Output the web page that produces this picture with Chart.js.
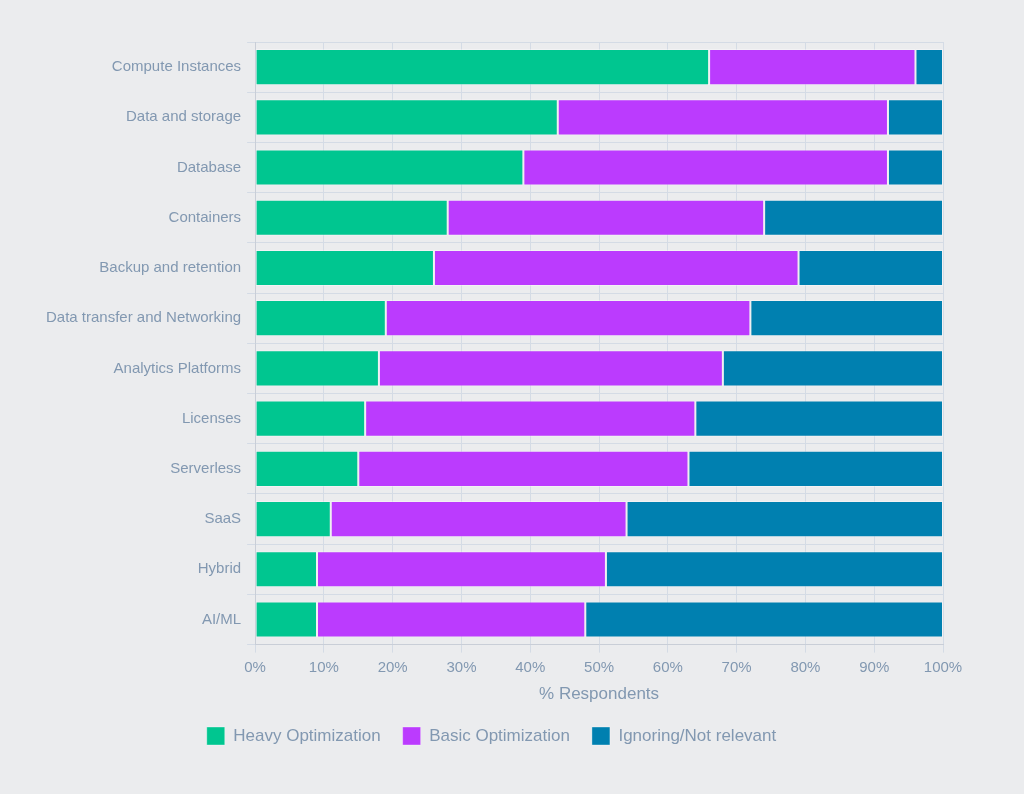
<!DOCTYPE html>
<html lang="en">
<head>
  <meta charset="UTF-8">
  <title>Optimization by category</title>
  <script src="https://cdn.jsdelivr.net/npm/chart.js"></script>
  <style>
    html, body { margin: 0; padding: 0; background: #ebecee; }
    .contentGrafico { width: 1024px; height: 794px; position: relative; }
  </style>
</head>
<body>
  <div class="contentGrafico">
    <canvas id="barChart"></canvas>
  </div>

<script>
  // values (% respondents)
  const categorias = ["Compute Instances", "Data and storage", "Database", "Containers",
    "Backup and retention", "Data transfer and Networking", "Analytics Platforms",
    "Licenses", "Serverless", "SaaS", "Hybrid", "AI/ML"];
  const heavy = [66, 44, 39, 28, 26, 19, 18, 16, 15, 11, 9, 9];
  const basic = [30, 48, 53, 46, 53, 53, 50, 48, 48, 43, 42, 39];
  const ignoring = [4, 8, 8, 26, 21, 28, 32, 36, 37, 46, 49, 52];
  const seriesNames = ["Heavy Optimization", "Basic Optimization", "Ignoring/Not relevant"];
  const xTicks = [0, 10, 20, 30, 40, 50, 60, 70, 80, 90, 100];

  const textColor = "#8298b1";
  const gridColor = "#d4dbe5";
  const fonte = "Helvetica, 'Liberation Sans', Arial, sans-serif";

  const config = {
    type: "bar",
    data: {
      labels: categorias,
      datasets: [
        { label: seriesNames[0], data: heavy, backgroundColor: "#00c690", borderColor: "rgba(255,255,255,0.35)" },
        { label: seriesNames[1], data: basic, backgroundColor: "#bb3bfe", borderColor: "rgba(255,255,255,0.35)" },
        { label: seriesNames[2], data: ignoring, backgroundColor: "#0080b0", borderColor: "rgba(255,255,255,0.35)" }
      ]
    },
    options: {
      indexAxis: "y",
      responsive: true,
      maintainAspectRatio: false,
      animation: false,
      datasets: {
        bar: { categoryPercentage: 1, barPercentage: 0.72, borderWidth: 1, borderSkipped: false }
      },
      layout: { padding: { top: 42, right: 81, bottom: 39, left: 40 } },
      scales: {
        x: {
          stacked: true,
          min: 0,
          max: 100,
          afterBuildTicks: function (axis) {
            axis.ticks = xTicks.map(function (v) { return { value: v }; });
          },
          grid: { color: gridColor, tickLength: 8 },
          border: { color: "#c9ced7" },
          ticks: {
            color: textColor,
            font: { family: fonte, size: 15 },
            padding: 6,
            callback: function (v) { return v + "%"; }
          },
          title: {
            display: true,
            text: "% Respondents",
            color: textColor,
            font: { family: fonte, size: 17 },
            padding: { top: 2, bottom: 0 }
          }
        },
        y: {
          stacked: true,
          grid: { color: gridColor, tickLength: 8 },
          border: { color: "#c9ced7" },
          ticks: {
            color: textColor,
            font: { family: fonte, size: 15 },
            padding: 6
          }
        }
      },
      plugins: {
        legend: {
          position: "bottom",
          labels: {
            color: textColor,
            font: { family: fonte, size: 17 },
            boxWidth: 18,
            boxHeight: 18,
            padding: 22
          }
        },
        tooltip: { enabled: false }
      }
    }
  };

  let myChart = new Chart(document.getElementById("barChart"), config);
</script>
</body>
</html>
